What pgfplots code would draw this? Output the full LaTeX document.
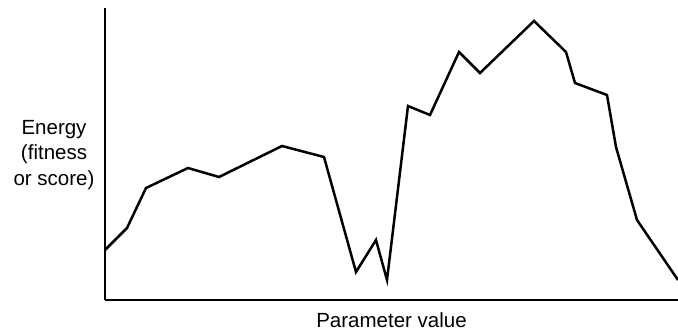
\documentclass[border=0pt]{standalone}
\usepackage{pgfplots}
\pgfplotsset{compat=1.18}
\usepackage{fontspec}
\setmainfont{Liberation Sans}
\begin{document}
\begin{tikzpicture}
\useasboundingbox (-105pt,-30pt) rectangle (573pt,300pt);
\begin{axis}[
  at={(0pt,0pt)}, anchor=south west,
  scale only axis, width=573pt, height=292pt,
  xmin=105, xmax=678, ymin=0, ymax=292,
  axis x line*=bottom, axis y line*=left,
  axis line style={line width=2pt, -},
  xtick=\empty, ytick=\empty,
  clip=false,
  font=\fontsize{20.5}{25.5}\selectfont,
  ylabel={Energy\\(fitness\\or score)},
  ylabel style={rotate=-90, align=center, at={(axis description cs:0,0.5)}, anchor=east, xshift=-7pt, yshift=-1pt},
  xlabel={Parameter value},
  xlabel style={at={(axis description cs:0.5,0)}, anchor=base, inner sep=0pt, yshift=-27pt},
]
\addplot[black, line width=2.5pt, mark=none] coordinates {
(105,50) (127,72) (146,112) (188,132) (219,123) (282,154) (324,143)
(356,28) (376,60) (387,20) (408,194) (430,185) (459,248) (480,227)
(534,279) (566,248) (575,217) (607,205) (616,153) (637,80) (678,20)
};
\end{axis}
\end{tikzpicture}
\end{document}
